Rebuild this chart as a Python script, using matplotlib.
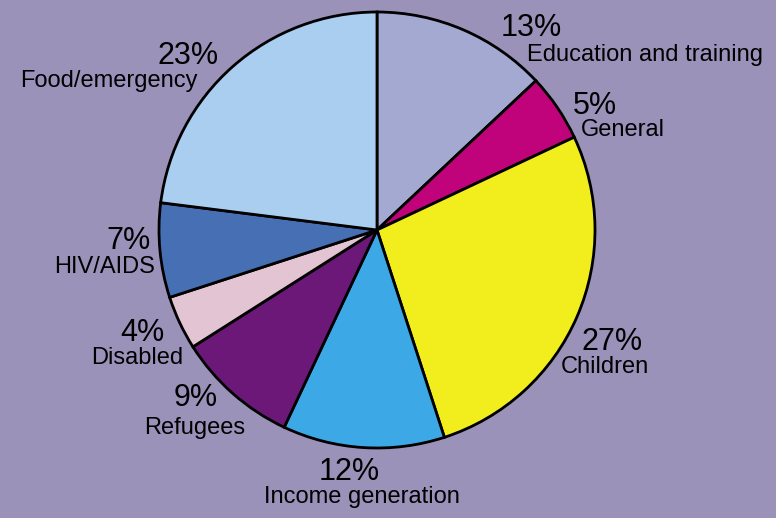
import matplotlib.pyplot as plt

# funding share by area, clockwise from 12 o'clock
areas = ["Education and training", "General", "Children", "Income generation",
         "Refugees", "Disabled", "HIV/AIDS", "Food/emergency"]
shares = [13, 5, 27, 12, 9, 4, 7, 23]

colors = ["#A3A9D1", "#C0037A", "#F2EE1E", "#3DA8E6",
          "#6B1878", "#E3C4D3", "#466FB4", "#AACEF0"]

# label layout in pixels (x centre, baseline of % , baseline of name)
label_pos = [(531, 36, 645, 61), (595, 114, 623, 136), (612, 350, 605, 373),
             (349, 480, 362, 503), (196, 406, 195, 434), (142, 341, 137, 364),
             (128, 249, 105, 273), (188, 64, 109, 87)]

W, H = 776, 518
fig = plt.figure(figsize=(W / 100, H / 100), dpi=100)
fig.patch.set_facecolor("#9B92BA")
ax = fig.add_axes([0, 0, 1, 1])

ax.pie(shares, colors=colors, startangle=90, counterclock=False,
       center=(377, H - 230), radius=218, frame=True,
       wedgeprops=dict(edgecolor="black", linewidth=2))
ax.set_xlim(0, W)
ax.set_ylim(0, H)
ax.set_aspect("equal")
ax.axis("off")

font = "Liberation Sans"
for name, val, (px, py, nx, ny) in zip(areas, shares, label_pos):
    ax.text(px, H - py, f"{val}%", ha="center", va="baseline",
            fontsize=22, family=font, color="black")
    ax.text(nx, H - ny, name, ha="center", va="baseline",
            fontsize=17, family=font, color="black")

fig.savefig("out.png", dpi=100, facecolor=fig.get_facecolor())
